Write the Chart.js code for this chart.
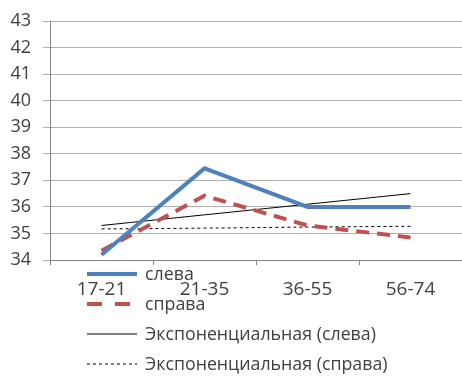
<!DOCTYPE html>
<html>
<head>
<meta charset="utf-8">
<script src="https://cdn.jsdelivr.net/npm/chart.js@4"></script>
<style>
  html, body { margin: 0; padding: 0; background: #fff; }
  #wrap { width: 462px; height: 388px; }
</style>
</head>
<body>
<div id="wrap"><canvas id="chart" width="462" height="388"></canvas></div>
<script>
const categories = ['17-21', '21-35', '36-55', '56-74'];
const sleva = [34.2, 37.45, 36.0, 36.0];
const sprava = [34.35, 36.42, 35.3, 34.85];
const trendSleva = [35.3, 35.7, 36.1, 36.5];
const trendSprava = [35.17, 35.2, 35.24, 35.27];
const legendLabels = ['слева', 'справа', 'Экспоненциальная (слева)', 'Экспоненциальная (справа)'];

const FONT = 'Open Sans';

// legend drawn by hand: it sits over the axis labels like in the original
const legendPlugin = {
  id: 'ownLegend',
  afterDraw(chart) {
    const ctx = chart.ctx;
    const sets = chart.data.datasets;
    ctx.save();
    ctx.font = '17.8px "' + FONT + '"';
    ctx.textBaseline = 'middle';
    ctx.fillStyle = '#404040';
    for (let i = 0; i < sets.length; i++) {
      const y = 274 + i * 30;
      const ds = sets[i];
      ctx.strokeStyle = ds.borderColor;
      ctx.lineWidth = ds.borderWidth;
      ctx.setLineDash(ds.legendDash || []);
      ctx.beginPath();
      ctx.moveTo(87, y);
      ctx.lineTo(137, y);
      ctx.stroke();
      ctx.setLineDash([]);
      ctx.fillText(legendLabels[i], 145, y + 1);
    }
    ctx.restore();
  }
};

const data = {
  labels: categories,
  datasets: [
    { label: legendLabels[0], data: sleva, borderColor: '#4F81BD', borderWidth: 4, pointRadius: 0, tension: 0 },
    { label: legendLabels[1], data: sprava, borderColor: '#C0504D', borderWidth: 4, borderDash: [13, 8], legendDash: [15, 13], pointRadius: 0, tension: 0 },
    { label: legendLabels[2], data: trendSleva, borderColor: '#000000', borderWidth: 1, pointRadius: 0, tension: 0.4 },
    { label: legendLabels[3], data: trendSprava, borderColor: '#000000', borderWidth: 1, borderDash: [3, 3], legendDash: [3, 3], pointRadius: 0, tension: 0.4 }
  ]
};

const config = {
  type: 'line',
  data: data,
  options: {
    responsive: false,
    animation: false,
    layout: { padding: { top: 0, right: 0, bottom: 0, left: 0 } },
    plugins: { legend: { display: false }, tooltip: { enabled: false } },
    scales: {
      x: {
        offset: true,
        grid: { offset: true, drawOnChartArea: false, drawTicks: true, tickLength: 5, color: '#868686' },
        border: { color: '#868686' },
        ticks: { color: '#404040', font: { family: FONT, size: 19 }, padding: 13, maxRotation: 0 },
        afterFit: s => { s.height = 128; }
      },
      y: {
        min: 34,
        max: 43,
        grid: { color: '#B0B0B0', tickLength: 7 },
        border: { color: '#868686' },
        ticks: { stepSize: 1, color: '#404040', font: { family: FONT, size: 18, lineHeight: 1 }, padding: 12 },
        afterFit: s => { s.width = 50; }
      }
    }
  },
  plugins: [legendPlugin]
};

const myChart = new Chart(document.getElementById('chart'), config);
</script>
</body>
</html>
